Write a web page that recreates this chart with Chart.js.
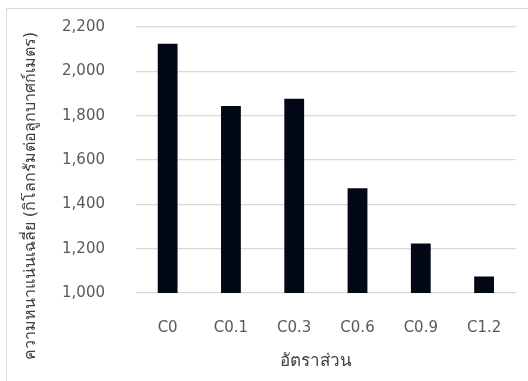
<!DOCTYPE html>
<html>
<head>
<meta charset="utf-8">
<script src="https://cdn.jsdelivr.net/npm/chart.js@4.4.0/dist/chart.umd.min.js"></script>
<style>
  html, body { margin: 0; padding: 0; background: #fff; overflow: hidden; }
  #frame { position: absolute; left: 6px; top: 8px; width: 600px; height: 600px; border: 1px solid #d9d9d9; }
  #wrap { position: absolute; left: 0; top: 0; width: 528px; height: 381px; }
</style>
</head>
<body>
<div id="frame"></div>
<div id="wrap"><canvas id="chart" width="528" height="381"></canvas></div>
<script>
// Data
const categories = ['C0', 'C0.1', 'C0.3', 'C0.6', 'C0.9', 'C1.2'];
const densities = [2124, 1844, 1876, 1473, 1223, 1075];
const yTitle = 'ความหนาแน่นเฉลี่ย (กิโลกรัมต่อลูกบาศก์เมตร)';
const xTitle = 'อัตราส่วน';

const fontFamily = "'DejaVu Sans', sans-serif";
const tickFont = { family: fontFamily, size: 15 };
const gray = '#595959';

// Axis titles, placed where the original puts them
const axisTitles = {
    id: 'axisTitles',
    afterDraw(c) {
        const ctx = c.ctx;
        const area = c.chartArea;
        ctx.save();
        ctx.fillStyle = '#404040';
        ctx.textAlign = 'center';
        ctx.textBaseline = 'middle';
        ctx.font = '17px ' + fontFamily;
        ctx.fillText(xTitle, (area.left + area.right) / 2 - 10, 362);
        ctx.translate(31, 196);
        ctx.rotate(-Math.PI / 2);
        ctx.font = '16px ' + fontFamily;
        ctx.fillText(yTitle, 0, 0);
        ctx.restore();
    }
};

const chart = new Chart(document.getElementById('chart'), {
    type: 'bar',
    data: {
        labels: categories,
        datasets: [{
            data: densities,
            backgroundColor: '#030816',
            borderWidth: 0,
            barPercentage: 0.313,
            categoryPercentage: 1
        }]
    },
    options: {
        responsive: false,
        animation: false,
        layout: { padding: { top: 27, right: 9, left: 0, bottom: 0 } },
        plugins: { legend: { display: false }, tooltip: { enabled: false } },
        scales: {
            x: {
                grid: { display: false, drawTicks: false },
                border: { display: false },
                ticks: { color: gray, font: tickFont, padding: 26 },
                afterFit: (s) => { s.height = 88; }
            },
            y: {
                min: 1000,
                max: 2200,
                ticks: { stepSize: 200, color: gray, font: tickFont, padding: 31 },
                grid: { color: '#d9d9d9', lineWidth: 1.3, drawTicks: false },
                border: { display: false },
                afterFit: (s) => { s.width = 136; s.paddingTop = 0; s.paddingBottom = 0; }
            }
        }
    },
    plugins: [axisTitles]
});
</script>
</body>
</html>
